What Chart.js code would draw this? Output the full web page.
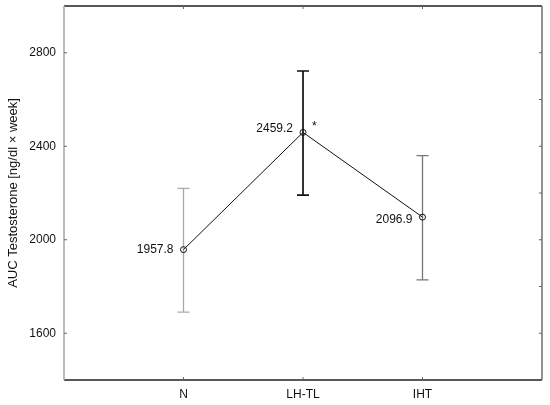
<!DOCTYPE html>
<html>
<head>
<meta charset="utf-8">
<script src="https://cdn.jsdelivr.net/npm/chart.js@4/dist/chart.umd.min.js"></script>
<style>
  html, body { margin: 0; padding: 0; background: #fff; }
  #wrap { width: 550px; height: 405px; }
</style>
</head>
<body>
<div id="wrap"><canvas id="myChart" width="550" height="405"></canvas></div>
<script>
// groups and values
const groups = ['N', 'LH-TL', 'IHT'];
const means = [1957.8, 2459.2, 2096.9];
const errLow = [1690, 2191, 1828];
const errHigh = [2220, 2722, 2360];
const errColors = ['#aaaaaa', '#111111', '#777777'];
const yTicks = [1600, 2000, 2400, 2800];
const marks = ['', '*', ''];

const FONT = '"Liberation Sans", Arial, sans-serif';

// error bars, value labels and the frame, all placed through the chart scales
const extras = {
    id: 'extras',
    beforeDatasetsDraw(chart) {
        const { ctx, chartArea: a, scales: { x, y } } = chart;
        ctx.save();
        // frame
        ctx.lineWidth = 1.6;
        ctx.strokeStyle = '#222';
        ctx.beginPath();
        ctx.moveTo(a.left, a.top); ctx.lineTo(a.right, a.top);
        ctx.moveTo(a.left, a.bottom); ctx.lineTo(a.right, a.bottom);
        ctx.stroke();
        ctx.strokeStyle = '#aaa';
        ctx.beginPath();
        ctx.moveTo(a.left, a.top); ctx.lineTo(a.left, a.bottom);
        ctx.stroke();
        ctx.strokeStyle = '#777';
        ctx.beginPath();
        ctx.moveTo(a.right, a.top); ctx.lineTo(a.right, a.bottom);
        ctx.stroke();

        // small inward ticks
        ctx.lineWidth = 1;
        ctx.strokeStyle = '#666';
        ctx.beginPath();
        yTicks.forEach(v => {
            const py = y.getPixelForValue(v);
            ctx.moveTo(a.left, py); ctx.lineTo(a.left + 3, py);
        });
        for (let v = 1600; v <= 2800; v += 200) {
            const py = y.getPixelForValue(v);
            ctx.moveTo(a.right, py); ctx.lineTo(a.right - 3, py);
        }
        groups.forEach((g, i) => {
            const px = x.getPixelForValue(i + 1);
            ctx.moveTo(px, a.top); ctx.lineTo(px, a.top + 3);
            ctx.moveTo(px, a.bottom); ctx.lineTo(px, a.bottom - 3);
        });
        ctx.stroke();

        // error bars
        groups.forEach((g, i) => {
            const px = x.getPixelForValue(i + 1);
            const lo = y.getPixelForValue(errLow[i]);
            const hi = y.getPixelForValue(errHigh[i]);
            ctx.strokeStyle = errColors[i];
            ctx.lineWidth = i === 1 ? 1.7 : 1.3;
            ctx.beginPath();
            ctx.moveTo(px, lo); ctx.lineTo(px, hi);
            ctx.moveTo(px - 6, lo); ctx.lineTo(px + 6, lo);
            ctx.moveTo(px - 6, hi); ctx.lineTo(px + 6, hi);
            ctx.stroke();
        });
        ctx.restore();
    },
    afterDatasetsDraw(chart) {
        const { ctx, scales: { x, y } } = chart;
        ctx.save();
        ctx.font = '12px ' + FONT;
        ctx.fillStyle = '#111';
        ctx.textAlign = 'right';
        ctx.textBaseline = 'middle';
        const dy = [0, -4, 3];
        means.forEach((m, i) => {
            const px = x.getPixelForValue(i + 1);
            const py = y.getPixelForValue(m);
            ctx.fillText(m.toFixed(1), px - 10, py + dy[i]);
            if (marks[i]) {
                ctx.textAlign = 'left';
                ctx.fillText(marks[i], px + 9, py - 6);
                ctx.textAlign = 'right';
            }
        });
        ctx.restore();
    }
};

const ctx = document.getElementById('myChart').getContext('2d');
new Chart(ctx, {
    type: 'line',
    data: {
        datasets: [{
            data: means.map((m, i) => ({ x: i + 1, y: m })),
            borderColor: '#111',
            borderWidth: 1,
            pointRadius: 3,
            pointBorderWidth: 1,
            pointBorderColor: '#111',
            pointBackgroundColor: 'rgba(255,255,255,0)',
            tension: 0
        }]
    },
    options: {
        responsive: false,
        animation: false,
        events: [],
        layout: { padding: { top: 6, right: 8, left: 0, bottom: 0 } },
        plugins: { legend: { display: false }, tooltip: { enabled: false } },
        scales: {
            x: {
                type: 'linear',
                min: 0,
                max: 4,
                grid: { display: false, drawTicks: false },
                border: { display: false },
                afterFit: s => { s.height = 25; s.paddingLeft = 0; s.paddingRight = 0; },
                afterBuildTicks: s => { s.ticks = groups.map((g, i) => ({ value: i + 1 })); },
                ticks: {
                    padding: 7,
                    color: '#111',
                    font: { family: FONT, size: 12 },
                    callback: v => groups[v - 1] || ''
                }
            },
            y: {
                min: 1400,
                max: 3000,
                grid: { display: false, drawTicks: false },
                border: { display: false },
                afterFit: s => { s.width = 64; s.paddingTop = 0; s.paddingBottom = 0; },
                afterBuildTicks: s => { s.ticks = yTicks.map(v => ({ value: v })); },
                ticks: {
                    padding: 8,
                    color: '#111',
                    font: { family: FONT, size: 12 },
                    callback: v => String(v)
                },
                title: {
                    display: true,
                    text: 'AUC Testosterone [ng/dl × week]',
                    color: '#111',
                    font: { family: FONT, size: 13 },
                    padding: { top: 6, bottom: 0 }
                }
            }
        }
    },
    plugins: [extras]
});
</script>
</body>
</html>
